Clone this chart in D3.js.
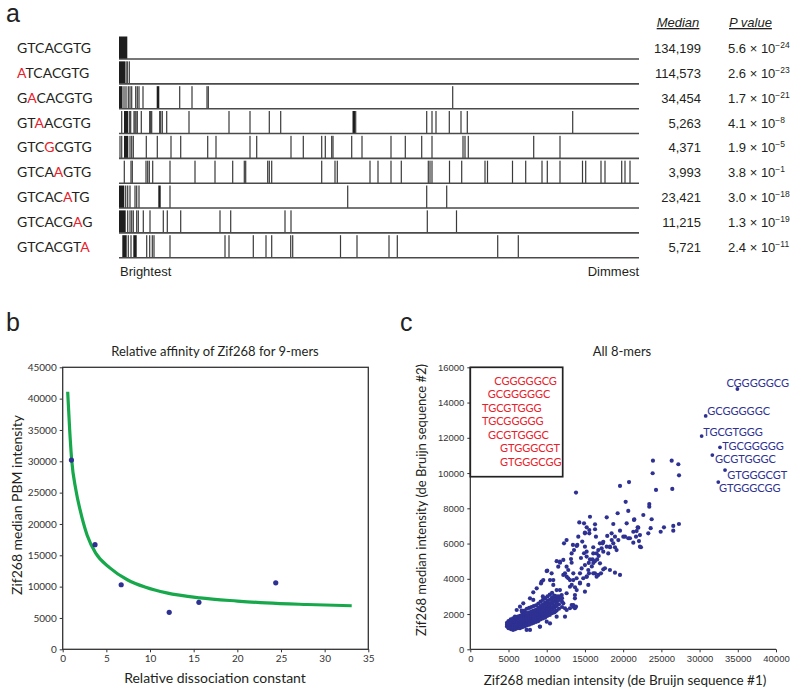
<!DOCTYPE html>
<html><head><meta charset="utf-8">
<script src="https://cdn.jsdelivr.net/npm/d3@7"></script>
<style>body{margin:0;background:#fff}svg{display:block}</style>
</head><body>
<svg id="fig" width="800" height="696"></svg>
<script>
// ---------------- Panel a data ----------------
const sequences = ["GTCACGTG","ATCACGTG","GACACGTG","GTAACGTG","GTCGCGTG","GTCAAGTG","GTCACATG","GTCACGAG","GTCACGTA"];
const mutatedIndex = [-1,0,1,2,3,4,5,6,7];
const medians = [134199,114573,34454,5263,4371,3993,23421,11215,5721];
const pMantissa = ["5.6","2.6","1.7","4.1","1.9","3.8","3.0","1.3","2.4"];
const pExponent = [-24,-23,-21,-8,-5,-1,-18,-19,-11];
// relative rank positions (0 = brightest, 520 = dimmest); [a,b] = solid run of ranks
const barcodeRanks = [
  [[0,8.3]],
  [[0,6],7,8.3,10.3],
  [[0,3.5],5,7,9.3,11,12.7,16.7,18.3,20,24,[37.7,40.3],60.7,73,88,89.3,333.7],
  [2.7,[5,9.3],10.7,11.7,15,16,17,18.3,22.3,30.7,31.7,32.7,40.7,41.7,43.3,47.7,70,110,131,150.3,161.7,[233.5,236],236.7,307.7,313,317,330.3,342,348.3,453.7],
  [1,2.7,[5,9.3],11,12.7,14.3,27.3,38.3,52,61.7,88.7,97,131,137.7,172,184.3,202.7,206.3,212.7,214,232.7,243,272,286.3,302.7,313,344,346,349.3,414.7,441],
  [5.3,12,13.3,27,28.7,30.3,33.7,51,76,96,113.7,125.3,126.7,148.7,150.3,152.7,202.7,216,218.3,251,259,272,282.3,309.3,311,313,330.5,342.7,366,368.5,393.5,406.7,423,428.3,441,463.5,466.7,482,486,502.7,506,511],
  [[0,5.3],6.7,8.7,11,16,17.7,20,[39.3,41.7],51,228.7,307.7,327.7],
  [[0,6.7],8.7,11,12.7,14.3,17.7,19.3,24.3,31,44.3,48.3,61.7,101,111.7,166,172,308.3,337.5],
  [[3.3,7.7],9.3,12,[14.3,17.7],27.7,30.7,33.3,35,51,106,110,134.3,147,152.7,171.7,173.7,221.5,238,270,278.3,378.7,399.3]
];

// ---------------- Panel b data ----------------
const relKd = [1.0, 3.7, 6.7, 12.2, 15.6, 24.4];
const medianPBM = [30200, 16700, 10300, 5900, 7500, 10600];
const fitKd =  [0.57, 0.8, 1.03, 1.5, 2.0, 2.8, 3.8, 5.4, 7.4, 9.5, 11.9, 15.7, 20, 23.3, 28, 33.1];
const fitPBM = [41100, 35000, 30200, 25500, 22200, 18200, 15300, 13000, 11100, 9900, 9000, 8200, 7700, 7400, 7150, 6950];
const bTicksX = [0,5,10,15,20,25,30,35];
const bTicksY = [0,5000,10000,15000,20000,25000,30000,35000,40000,45000];

// ---------------- Panel c data (intensities in thousands) ----------------
const cTicksX = [0,5000,10000,15000,20000,25000,30000,35000,40000];
const cTicksY = [0,2000,4000,6000,8000,10000,12000,14000,16000];
const topKmers = ["CGGGGGCG","GCGGGGGC","TGCGTGGG","TGCGGGGG","GCGTGGGC","GTGGGCGT","GTGGGCGG"];
const topSeq1K = [34.95, 30.8, 30.27, 32.67, 31.67, 33.33, 32.45];
const topSeq2K = [14.77, 13.24, 12.1, 11.46, 11.02, 10.17, 9.49];
const coreCloudK = [
 [4.8,1.3],[4.8,1.4],[4.8,1.5],
 [5.0,1.2],[5.0,1.3],[5.0,1.4],[5.0,1.5],[5.0,1.6],
 [5.3,1.15],[5.3,1.25],[5.3,1.35],[5.3,1.45],[5.3,1.55],[5.3,1.7],
 [5.6,1.1],[5.6,1.2],[5.6,1.3],[5.6,1.4],[5.6,1.5],[5.6,1.6],[5.6,1.75],
 [5.9,1.15],[5.9,1.25],[5.9,1.35],[5.9,1.45],[5.9,1.55],[5.9,1.65],[5.9,1.8],
 [6.2,1.2],[6.2,1.3],[6.2,1.4],[6.2,1.5],[6.2,1.6],[6.2,1.7],[6.2,1.85],
 [6.5,1.2],[6.5,1.35],[6.5,1.45],[6.5,1.55],[6.5,1.65],[6.5,1.75],[6.5,1.9],
 [6.8,1.25],[6.8,1.4],[6.8,1.5],[6.8,1.6],[6.8,1.7],[6.8,1.8],[6.8,1.95],[6.8,2.1],
 [7.1,1.3],[7.1,1.45],[7.1,1.55],[7.1,1.65],[7.1,1.75],[7.1,1.85],[7.1,2.0],[7.1,2.2],
 [7.4,1.35],[7.4,1.5],[7.4,1.6],[7.4,1.7],[7.4,1.8],[7.4,1.9],[7.4,2.05],[7.4,2.3],
 [7.7,1.4],[7.7,1.55],[7.7,1.65],[7.7,1.75],[7.7,1.85],[7.7,1.95],[7.7,2.1],[7.7,2.35],
 [8.0,1.45],[8.0,1.6],[8.0,1.7],[8.0,1.8],[8.0,1.9],[8.0,2.0],[8.0,2.15],[8.0,2.4],
 [8.3,1.5],[8.3,1.65],[8.3,1.75],[8.3,1.85],[8.3,1.95],[8.3,2.05],[8.3,2.2],[8.3,2.45],
 [8.6,1.55],[8.6,1.7],[8.6,1.8],[8.6,1.9],[8.6,2.0],[8.6,2.1],[8.6,2.25],[8.6,2.5],
 [8.9,1.6],[8.9,1.75],[8.9,1.85],[8.9,1.95],[8.9,2.05],[8.9,2.2],[8.9,2.35],[8.9,2.6],
 [9.2,1.7],[9.2,1.85],[9.2,1.95],[9.2,2.05],[9.2,2.15],[9.2,2.3],[9.2,2.45],[9.2,2.7],
 [9.5,1.75],[9.5,1.9],[9.5,2.0],[9.5,2.1],[9.5,2.25],[9.5,2.4],[9.5,2.55],[9.5,2.8],
 [9.8,1.8],[9.8,1.95],[9.8,2.1],[9.8,2.2],[9.8,2.35],[9.8,2.5],[9.8,2.65],[9.8,2.9],
 [10.1,1.9],[10.1,2.05],[10.1,2.2],[10.1,2.3],[10.1,2.45],[10.1,2.6],[10.1,2.75],[10.1,3.0],
 [10.4,1.95],[10.4,2.15],[10.4,2.3],[10.4,2.45],[10.4,2.6],[10.4,2.8],[10.4,3.1],
 [10.7,2.05],[10.7,2.25],[10.7,2.4],[10.7,2.6],[10.7,2.75],[10.7,2.95],[10.7,3.2],
 [11.0,2.1],[11.0,2.35],[11.0,2.5],[11.0,2.7],[11.0,2.9],[11.0,3.05],
 [11.3,2.2],[11.3,2.45],[11.3,2.65],[11.3,2.85],[11.3,3.0],
 [11.6,2.3],[11.6,2.55],[11.6,2.8],[11.6,3.0],
 [12.0,2.4],[12.0,2.7],[12.0,2.9]
];
const scatterK = [
 [23.9,10.7],[26.35,10.7],[27.22,10.5],[23.86,9.99],[27.31,9.87],[24.3,9.04],[26.43,9.1],[19.59,9.27],[20.77,9.49],[13.83,8.89],
 [20.33,8.37],[23.42,8.24],[23.42,8.09],[20.67,7.85],[19.28,7.72],[17.85,7.49],[15.66,7.52],[14.26,7.2],[14.88,7.15],[22.64,7.62],
 [21.42,7.34],[20.46,7.15],[23.73,7.38],[18.71,7.11],[16.32,7.09],[15.23,6.92],[19.59,6.73],[16.32,6.81],[23.6,6.87],[26.56,7.0],
 [27.3,7.11],[26.56,6.73],[25.34,6.92],[24.91,6.67],[21.33,6.67],[21.9,6.92],[22.2,6.48],[21.68,6.39],[20.67,6.3],[20.02,6.39],
 [22.07,6.14],[21.33,6.05],[22.33,5.79],[18.93,6.39],[18.5,6.2],[17.85,5.82],[18.28,5.79],[18.93,5.79],[17.32,6.01],[16.09,5.79],
 [16.75,5.63],[15.57,6.58],[15.57,6.77],[12.26,6.01],[13.92,5.86],[13.57,5.63],[14.88,5.45],[14.48,5.18],[13.18,5.12],[16.0,5.1],
 [16.3,5.0],[16.6,5.1],[16.8,5.3],[17.4,4.54],[18.93,4.35],[19.59,4.22],[16.75,4.22],[17.1,4.31],[15.9,4.7],[16.1,4.9],[15.5,4.9],
 [9.99,4.44],[9.33,3.84],[11.3,5.0],[11.73,4.97],[13.26,4.91],[12.39,4.31],[12.82,4.03],[13.48,3.93],[13.91,4.03],[14.57,4.59],
 [14.35,3.78],[15.22,4.12],[15.53,4.31],[16.31,4.31],[16.53,4.12],[13.04,3.55],[11.73,3.36],[12.6,3.18],[13.69,3.08],[13.69,2.89],
 [13.48,2.42],[13.69,2.33],[13.26,2.51],[12.17,2.61],[12.39,2.33],[11.3,1.85],[10.43,1.47],[9.1,1.29],[7.37,1.1],[8.24,2.8],
 [9.49,3.0],[7.37,2.04],[6.5,2.42],[6.72,2.19],[5.84,1.85],[5.19,1.47],[10.86,3.93],[10.64,4.31],[12.17,5.07],[15.22,5.26],
 [15.66,5.1],[16.09,5.44],[17.18,5.73],[17.4,5.54],[16.53,5.44],[18.05,5.44],[18.27,5.82],[18.71,6.01],[19.14,5.63],[16.96,6.01],
 [17.4,6.1],[12.6,4.69],[11.51,4.69],[10.07,4.46],[9.25,3.74],[8.24,3.23],[11.74,4.91],[14.0,5.92],[15.0,6.58],
 [12.61,4.12],[13.04,3.93],[13.27,3.65],[13.7,3.52],[13.92,3.36],[14.35,3.74],[14.78,4.03],[15.23,4.12],[15.44,3.65],[15.0,3.27],
 [13.04,2.33],[13.48,2.51],[13.83,2.42],[12.39,1.85],[12.61,2.23],[11.51,2.8],[11.96,3.08],[11.3,3.36],[10.86,3.65],[10.43,3.93],
 [9.55,3.93],[8.69,3.46],[7.81,2.89],[6.93,2.61],[6.07,2.23],[9.12,1.28],[7.81,1.1],[10.0,1.57],[11.08,2.13],[12.82,4.5],
 [13.48,4.31],[12.17,4.22],[16.09,4.31],[14.35,4.31],[17.62,4.6],[18.27,4.5],[15.44,4.5],[15.0,4.78],[16.97,4.88],[13.26,5.44],
 [15.22,5.54],[15.0,5.82],[14.65,6.11],[13.43,5.92],[12.6,6.2],[14.13,6.39],[15.0,6.62],[16.44,6.39],[17.92,6.43],[18.49,6.58],
 [20.24,6.39],[20.89,6.3],[19.37,6.2],[22.2,5.82],[23.29,6.58],[21.76,6.71],[21.98,6.9],[21.46,7.37]
];

// ---------------- Drawing ----------------
const svg = d3.select("#fig");
const NAVY = "#2e3192", RED = "#e8202a", AX = "#333";
const myriad = "Lato, 'Open Sans', sans-serif";
const arial = "'Liberation Sans', Arial, sans-serif";

// panel letters
[["a",6,22],["b",6,331],["c",400,331]].forEach(([t,x,y]) =>
  svg.append("text").attr("x",x).attr("y",y).text(t)
    .style("font-family",arial).style("font-size","25px").attr("fill","#222"));

// ---- Panel a ----
const xa = d3.scaleLinear().domain([0,520]).range([119,639]);
const ya = d3.scaleLinear().domain([0,8]).range([59,257.7]);
const barH = 22.5;
const ga = svg.append("g");
barcodeRanks.forEach((row,i) => {
  const base = ya(i);
  const g = ga.append("g");
  row.forEach(v => {
    if (Array.isArray(v)) {
      g.append("rect").attr("x",xa(v[0])).attr("width",Math.max(1.2,xa(v[1])-xa(v[0])))
        .attr("y",base-barH).attr("height",barH).attr("fill","#1e1e1e");
    } else {
      g.append("rect").attr("x",xa(v)-0.6).attr("width",1.2)
        .attr("y",base-barH).attr("height",barH).attr("fill","#3a3a3a");
    }
  });
  g.append("line").attr("x1",xa(0)).attr("x2",xa(520)).attr("y1",base).attr("y2",base)
    .attr("stroke","#4a4a4a").attr("stroke-width",1.6);
  // sequence label
  const t = ga.append("text").attr("x",17).attr("y",base-6)
    .style("font-family",myriad).style("font-size","14px").attr("fill","#231f20");
  sequences[i].split("").forEach((ch,k) => {
    t.append("tspan").text(ch).attr("fill", k===mutatedIndex[i] ? RED : "#231f20");
  });
  // median
  ga.append("text").attr("x",701).attr("y",base-6).attr("text-anchor","end")
    .style("font-family",arial).style("font-size","13px").attr("fill","#231f20")
    .text(d3.format(",")(medians[i]));
  // p value
  const p = ga.append("text").attr("x",728).attr("y",base-6)
    .style("font-family",arial).style("font-size","13px").attr("fill","#231f20");
  p.append("tspan").text(pMantissa[i] + " \u00d7 10");
  p.append("tspan").attr("dy",-5).style("font-size","8.5px").text("\u2212" + Math.abs(pExponent[i]));
});
ga.append("text").attr("x",678).attr("y",27).attr("text-anchor","middle")
  .style("font-family",arial).style("font-size","13px").style("font-style","italic")
  .style("text-decoration","underline").attr("fill","#231f20").text("Median");
ga.append("text").attr("x",729).attr("y",27)
  .style("font-family",arial).style("font-size","13px").style("font-style","italic")
  .style("text-decoration","underline").attr("fill","#231f20").text("P value");
ga.append("text").attr("x",120).attr("y",276).style("font-family",arial).style("font-size","13px")
  .attr("fill","#231f20").text("Brightest");
ga.append("text").attr("x",639).attr("y",276).attr("text-anchor","end").style("font-family",arial)
  .style("font-size","13px").attr("fill","#231f20").text("Dimmest");

// ---- Panel b ----
const xb = d3.scaleLinear().domain([0,35]).range([62.7,368.3]);
const yb = d3.scaleLinear().domain([0,45000]).range([649.3,367.3]);
const gb = svg.append("g");
gb.append("text").attr("x",215).attr("y",356).attr("text-anchor","middle")
  .style("font-family",myriad).style("font-size","13px").attr("fill","#231f20")
  .text("Relative affinity of Zif268 for 9-mers");
const axb = gb.append("g").attr("transform",`translate(0,${yb(0)})`)
  .call(d3.axisBottom(xb).tickValues(bTicksX).tickSize(3).tickPadding(3));
const ayb = gb.append("g").attr("transform",`translate(${xb(0)},0)`)
  .call(d3.axisLeft(yb).tickValues(bTicksY).tickSize(3).tickPadding(3).tickFormat(d3.format("d")));
[axb,ayb].forEach(a => {
  a.select(".domain").remove();
  a.selectAll("line").attr("stroke",AX);
  a.selectAll("text").style("font-family",myriad).style("font-size","10px").attr("fill","#333");
});
gb.append("rect").attr("x",xb(0)).attr("y",yb(45000)).attr("width",xb(35)-xb(0))
  .attr("height",yb(0)-yb(45000)).attr("fill","none").attr("stroke",AX).attr("stroke-width",1.3);
gb.append("path").datum(fitKd.map((k,i)=>[k,fitPBM[i]]))
  .attr("d",d3.line().x(d=>xb(d[0])).y(d=>yb(d[1])).curve(d3.curveMonotoneX))
  .attr("fill","none").attr("stroke","#17a84b").attr("stroke-width",3.2);
gb.selectAll("circle").data(relKd.map((k,i)=>[k,medianPBM[i]])).join("circle")
  .attr("cx",d=>xb(d[0])).attr("cy",d=>yb(d[1])).attr("r",2.6).attr("fill",NAVY);
gb.append("text").attr("transform",`translate(22,505) rotate(-90)`).attr("text-anchor","middle")
  .style("font-family",myriad).style("font-size","14px").attr("fill","#231f20")
  .text("Zif268 median PBM intensity");
gb.append("text").attr("x",215).attr("y",683).attr("text-anchor","middle")
  .style("font-family",myriad).style("font-size","14px").attr("fill","#231f20")
  .text("Relative dissociation constant");

// ---- Panel c ----
const xc = d3.scaleLinear().domain([0,40000]).range([470.3,776]);
const yc = d3.scaleLinear().domain([0,16000]).range([649.3,367.3]);
const gc = svg.append("g");
gc.append("text").attr("x",622).attr("y",356).attr("text-anchor","middle")
  .style("font-family",myriad).style("font-size","13px").attr("fill","#231f20").text("All 8-mers");
const axc = gc.append("g").attr("transform",`translate(0,${yc(0)})`)
  .call(d3.axisBottom(xc).tickValues(cTicksX).tickSize(3).tickPadding(3).tickFormat(d3.format("d")));
const ayc = gc.append("g").attr("transform",`translate(${xc(0)},0)`)
  .call(d3.axisLeft(yc).tickValues(cTicksY).tickSize(3).tickPadding(3).tickFormat(d3.format("d")));
[axc,ayc].forEach(a => {
  a.select(".domain").remove();
  a.selectAll("line").attr("stroke",AX);
  a.selectAll("text").style("font-family",arial).style("font-size","9.5px").attr("fill","#333");
});
gc.append("line").attr("x1",xc(0)).attr("x2",xc(40000)).attr("y1",yc(0)).attr("y2",yc(0))
  .attr("stroke",AX).attr("stroke-width",1.3);
gc.append("line").attr("x1",xc(0)).attr("x2",xc(0)).attr("y1",yc(0)).attr("y2",yc(16000))
  .attr("stroke",AX).attr("stroke-width",1.3);
const allPts = coreCloudK.concat(scatterK);
gc.append("g").selectAll("circle").data(allPts).join("circle")
  .attr("cx",d=>xc(d[0]*1000)).attr("cy",d=>yc(d[1]*1000)).attr("r",2.1).attr("fill",NAVY);
const tops = topKmers.map((k,i)=>({k, x:topSeq1K[i]*1000, y:topSeq2K[i]*1000}));
gc.append("g").selectAll("circle").data(tops).join("circle")
  .attr("cx",d=>xc(d.x)).attr("cy",d=>yc(d.y)).attr("r",1.9).attr("fill",NAVY);
// label offsets relative to each point (pixel layout)
const labelDx = [-11, 1.6, 1.6, 2.3, 2.7, 2.3, 0.7];
const labelDy = [-2, -1, 0, 3, 8, 9, 10];
gc.append("g").selectAll("text").data(tops).join("text")
  .attr("x",(d,i)=>xc(d.x)+labelDx[i]).attr("y",(d,i)=>yc(d.y)+labelDy[i])
  .style("font-family",myriad).style("font-size","11px").attr("fill",NAVY).text(d=>d.k);
// inset legend box
gc.append("rect").attr("x",xc(0)).attr("y",yc(16000)).attr("width",92.4).attr("height",109.4)
  .attr("fill","#fff").attr("stroke","#222").attr("stroke-width",1.7);
const insetX = [494.3, 487.7, 482, 482, 488, 500, 500];
topKmers.forEach((k,i) => {
  gc.append("text").attr("x",insetX[i]).attr("y",yc(16000)+17.5+i*13.5)
    .style("font-family",myriad).style("font-size","11px").attr("fill",RED).text(k);
});
gc.append("text").attr("transform",`translate(426,500) rotate(-90)`).attr("text-anchor","middle")
  .style("font-family",myriad).style("font-size","13px").attr("fill","#231f20")
  .text("Zif268 median intensity (de Bruijn sequence #2)");
gc.append("text").attr("x",625).attr("y",685).attr("text-anchor","middle")
  .style("font-family",myriad).style("font-size","13.5px").attr("fill","#231f20")
  .text("Zif268 median intensity (de Bruijn sequence #1)");
</script>
</body></html>
